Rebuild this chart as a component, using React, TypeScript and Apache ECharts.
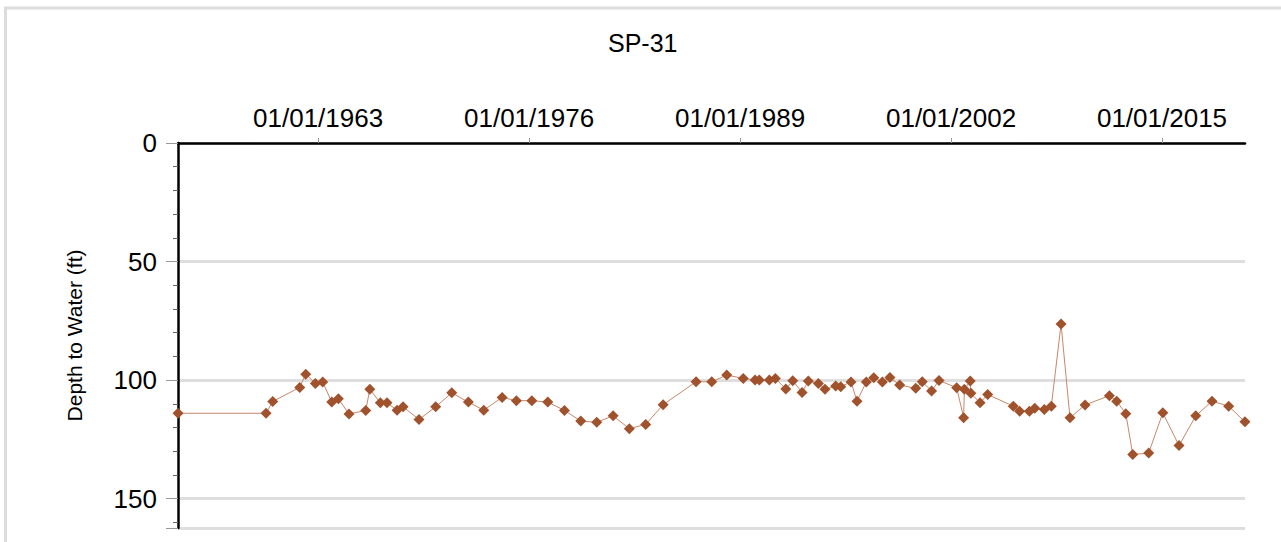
import React, { useEffect, useRef } from "react";
import * as echarts from "echarts";

const TITLE = "SP-31";
const Y_NAME = "Depth to Water (ft)";

const sampleDates: string[] = [
  "1954-05-15", "1959-10-18", "1960-03-17", "1961-11-14", "1962-03-29", "1962-11-01",
  "1963-04-15", "1963-11-04", "1964-04-01", "1964-11-27", "1965-12-08", "1966-03-10",
  "1966-11-02", "1967-04-01", "1967-11-13", "1968-03-28", "1969-03-21", "1970-04-01",
  "1971-03-28", "1972-04-05", "1973-03-17", "1974-05-05", "1975-03-22", "1976-03-03",
  "1977-02-25", "1978-03-07", "1979-03-10", "1980-03-04", "1981-03-07", "1982-03-07",
  "1983-03-10", "1984-04-05", "1986-04-16", "1987-04-05", "1988-03-07", "1989-03-14",
  "1989-12-05", "1990-03-10", "1990-10-23", "1991-03-07", "1991-10-27", "1992-04-01",
  "1992-10-27", "1993-03-17", "1993-10-30", "1994-03-28", "1994-11-23", "1995-03-17",
  "1995-11-02", "1996-03-17", "1996-10-12", "1997-03-28", "1997-10-09", "1998-03-28",
  "1998-11-02", "1999-10-30", "2000-03-24", "2000-10-20", "2001-04-05", "2002-05-08",
  "2002-10-12", "2002-10-27", "2003-03-10", "2003-03-24", "2003-10-16", "2004-04-05",
  "2005-11-02", "2006-03-24", "2006-10-30", "2007-02-28", "2007-10-01", "2008-03-07",
  "2008-10-12", "2009-05-01", "2010-04-05", "2011-10-05", "2012-03-17", "2012-10-09",
  "2013-03-14", "2014-03-07", "2015-01-19", "2016-01-19", "2017-01-30", "2018-01-30",
  "2019-02-10", "2020-02-10",
];

const depthToWater: number[] = [
  114.0, 114.0, 109.0, 103.1, 97.5, 101.4,
  100.8, 109.3, 107.9, 114.3, 112.8, 103.9,
  109.6, 109.6, 112.7, 111.3, 116.6, 111.3,
  105.4, 109.3, 112.7, 107.3, 108.7, 108.7,
  109.3, 112.8, 117.3, 117.8, 115.1, 120.5,
  118.7, 110.4, 100.7, 100.7, 97.9, 99.3,
  100.0, 100.0, 100.0, 99.3, 103.8, 100.3,
  105.2, 100.4, 101.4, 103.9, 102.5, 102.8,
  100.8, 108.9, 100.8, 99.0, 100.8, 98.9,
  102.1, 103.5, 100.7, 104.6, 100.2, 103.2,
  115.9, 103.9, 100.4, 105.6, 109.6, 106.1,
  111.0, 113.1, 113.1, 111.9, 112.4, 111.0,
  76.4, 115.9, 110.5, 106.6, 108.9, 114.2,
  131.4, 130.8, 113.8, 127.6, 115.1, 108.9,
  111.0, 117.6,
];

const xTickDates: string[] = ["1963-01-01", "1976-01-01", "1989-01-01", "2002-01-01", "2015-01-01"];
const X_MIN_DATE = "1954-05-15";
const X_MAX_DATE = "2020-02-12";
const Y_MIN = 0;
const Y_MAX = 162.4;
const Y_INTERVAL = 50;

const FONT = "'Liberation Sans', Arial, sans-serif";

const toMs = (s: string) => Date.parse(s + "T00:00:00Z");
const pad = (n: number) => (n < 10 ? "0" + n : "" + n);
const fmtDate = (v: number) => {
  const d = new Date(v);
  return pad(d.getUTCMonth() + 1) + "/" + pad(d.getUTCDate()) + "/" + d.getUTCFullYear();
};

export default function App() {
  const ref = useRef<HTMLDivElement>(null);

  useEffect(() => {
    if (!ref.current) return;
    const chart = echarts.init(ref.current, undefined, { renderer: "svg" });
    const data = sampleDates.map((d, i) => [toMs(d), depthToWater[i]]);
    const tickMs = xTickDates.map(toMs);

    chart.setOption({
      animation: false,
      backgroundColor: "#ffffff",
      title: {
        text: TITLE,
        left: 603,
        top: 25,
        textStyle: { fontFamily: FONT, fontSize: 25, fontWeight: "normal", color: "#000" },
      },
      graphic: [
        {
          type: "rect",
          shape: { x: 5.5, y: 8, width: 1300, height: 600 },
          style: { fill: "none", stroke: "#dcdcdc", lineWidth: 3 },
          silent: true,
        },
      ],
      grid: { left: 178, right: 36, top: 143, bottom: 14, containLabel: false },
      xAxis: {
        type: "value",
        position: "top",
        min: toMs(X_MIN_DATE),
        max: toMs(X_MAX_DATE),
        axisLine: { show: true, onZero: false, lineStyle: { color: "#000", width: 2.5 } },
        axisTick: { show: true, customValues: tickMs, length: 5, lineStyle: { color: "#999" } },
        axisLabel: {
          show: true,
          customValues: tickMs,
          formatter: (v: number) => fmtDate(v),
          fontFamily: FONT,
          fontSize: 26,
          color: "#000",
          margin: 12,
        },
        splitLine: { show: false },
      },
      yAxis: {
        type: "value",
        inverse: true,
        min: Y_MIN,
        max: Y_MAX,
        interval: Y_INTERVAL,
        name: Y_NAME,
        nameLocation: "middle",
        nameGap: 93,
        nameRotate: 90,
        nameTextStyle: { fontFamily: FONT, fontSize: 21, color: "#000" },
        axisLine: { show: true, onZero: false, lineStyle: { color: "#000", width: 2.5 } },
        axisTick: { show: true, length: 12, lineStyle: { color: "#999" } },
        minorTick: { show: true, splitNumber: 5, length: 5, lineStyle: { color: "#666" } },
        axisLabel: {
          fontFamily: FONT,
          fontSize: 26,
          color: "#000",
          margin: 21,
          showMaxLabel: false,
        },
        splitLine: { show: true, lineStyle: { color: "#dedede", width: 3 } },
      },
      series: [
        {
          type: "line",
          data,
          clip: false,
          symbol: "diamond",
          symbolSize: 11,
          itemStyle: { color: "#a0522d" },
          lineStyle: { color: "#c8876a", width: 1 },
        },
      ],
    });

    return () => chart.dispose();
  }, []);

  return (
    <div
      ref={ref}
      style={{ position: "fixed", left: 0, top: 0, width: 1281, height: 542 }}
    />
  );
}
